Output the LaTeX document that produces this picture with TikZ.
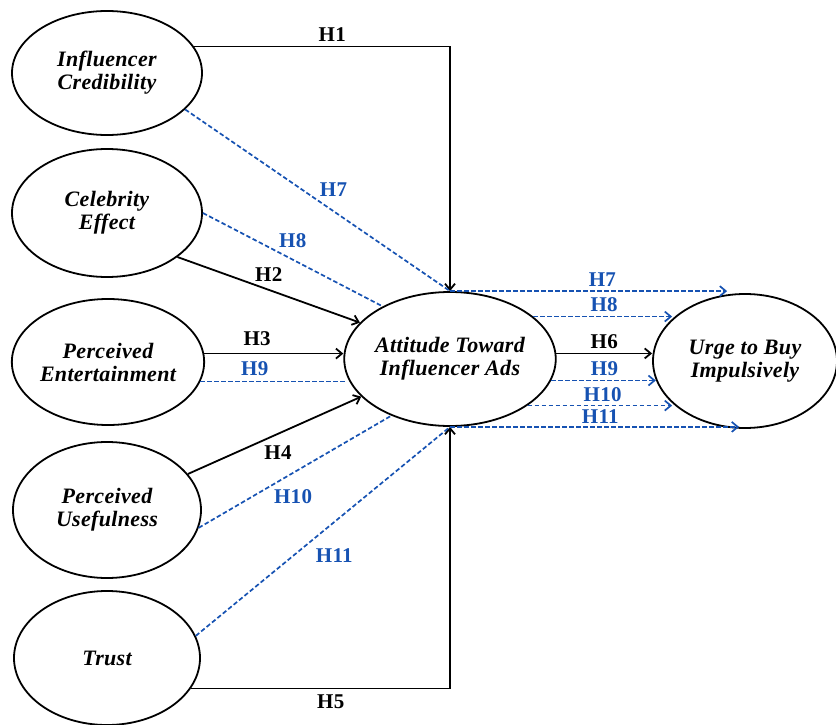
\documentclass[tikz,border=0pt]{standalone}
\usepackage{fontspec}
\setmainfont{Liberation Serif}[LetterSpace=1.5]
\usetikzlibrary{arrows.meta,shapes.geometric}
\definecolor{hblue}{RGB}{22,82,178}
\tikzset{
  construct/.style={ellipse,draw,line width=1.8pt,inner sep=0pt,align=center,
    font=\fontsize{22}{23}\selectfont\bfseries\itshape},
  hlab/.style={font=\fontsize{21}{22}\selectfont\bfseries,inner sep=1pt},
  hlabblue/.style={hlab,text=hblue},
  medpath/.style={draw=hblue,line width=1.7pt,dash pattern=on 4.5pt off 2.5pt},
}

\begin{document}
\begin{tikzpicture}[x=1pt,y=-1pt]
\useasboundingbox (0,0) rectangle (836,725);
\begin{scope}[every node/.style={construct}]
    \node[minimum width=190pt,minimum height=124pt] (cred)  at (107,73)  {Influencer\\Credibility};
    \node[minimum width=190pt,minimum height=128pt] (celeb) at (107,213) {Celebrity\\Effect};
    \node[minimum width=186pt,minimum height=126pt] (ent)   at (108,362) {Perceived\\Entertainment};
    \node[minimum width=188pt,minimum height=136pt] (use)   at (107,510) {Perceived\\Usefulness};
    \node[minimum width=186pt,minimum height=134pt] (trust) at (107,658) {Trust};
    \node[minimum width=200pt,minimum height=134pt] (att)   at (450,359) {Attitude Toward\\Influencer Ads};
    \node[minimum width=184pt,minimum height=134pt] (urge)  at (745,361) {Urge to Buy\\Impulsively};
\end{scope}
\begin{scope}[>={Straight Barb[length=6pt,width=10pt]},
              every edge/.style={draw,line width=1.8pt}]
    % direct paths
    \draw [->,line width=1.8pt] (cred.17) -| node[hlab,pos=0.27,above=3pt] {H1} (att.north);
    \path (celeb.-32) edge[->] node[hlab,pos=0.5,above=6pt] {H2} (att.158);
    \path (ent.5) edge[->] node[hlab,pos=0.38,above=6pt] {H3} (att.west |- ent.5);
    \path (use.24) edge[->] node[hlab,pos=0.52,below=10pt] {H4} (att.203);
    \draw [->,line width=1.8pt] (trust.-20) -| node[hlab,pos=0.27,below=4pt] {H5} (att.south);
    \path (att.3) edge[->] node[hlab,above=3pt] {H6} (att.3 -| urge.west);
    % mediated paths
    \path (cred.-25) edge[medpath] node[hlabblue,pos=0.56,above=13pt] {H7} (att.north);
    \path (celeb.east) edge[medpath] node[hlabblue,pos=0.5,above=10pt] {H8} (att.142);
    \path (ent.-12) edge[medpath] node[hlabblue,pos=0.37,above=4pt] {H9} (att.190 |- ent.-12);
    \path (use.-11) edge[medpath] node[hlabblue,pos=0.49,below=15pt] {H10} (att.224);
    \path (trust.14) edge[medpath] node[hlabblue,pos=0.545,below=25pt] {H11} (att.south);
    \path (att.north) edge[medpath,->] node[hlabblue,pos=0.55,above=3pt] {H7} (att.north -| urge.105);
    \path (att.27) edge[medpath,->] node[hlabblue,pos=0.51,above=3pt] {H8} (att.27 -| urge.150);
    \path (att.-12) edge[medpath,->] node[hlabblue,pos=0.51,above=3pt] {H9} (att.-12 -| urge.192);
    \path (att.-31) edge[medpath,->] node[hlabblue,pos=0.52,above=2pt] {H10} (att.-31 -| urge.210);
    \path (att.south) edge[medpath,->] node[hlabblue,pos=0.52,above=2pt] {H11} (att.south -| urge.265);
\end{scope}
\end{tikzpicture}
\end{document}
